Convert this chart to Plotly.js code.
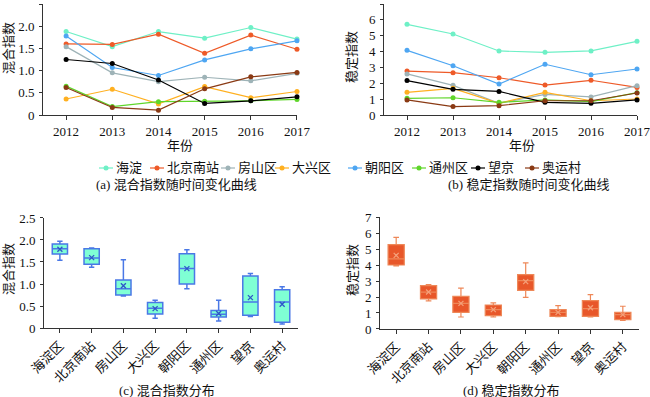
<!DOCTYPE html>
<html><head><meta charset="utf-8">
<script src="https://cdn.plot.ly/plotly-3.0.1.min.js"></script>
<style>html,body{margin:0;padding:0;background:#fff;}#chart{width:650px;height:397px;}</style>
</head><body><div id="chart"></div>
<script>
// ---- data ----
var years = ['2012','2013','2014','2015','2016','2017'];
var seriesNames = ['海淀','北京南站','房山区','大兴区','朝阳区','通州区','望京','奥运村'];
var boxCategories = ['海淀区','北京南站','房山区','大兴区','朝阳区','通州区','望京','奥运村'];

// mixed index over time (a)
var mixHaidian  = [1.88,1.54,1.88,1.73,1.97,1.71];
var mixBjnz     = [1.60,1.59,1.82,1.39,1.80,1.48];
var mixFangshan = [1.54,0.95,0.75,0.85,0.77,0.94];
var mixDaxing   = [0.36,0.58,0.25,0.64,0.39,0.53];
var mixChaoyang = [1.78,1.07,0.89,1.24,1.49,1.67];
var mixTongzhou = [0.65,0.19,0.30,0.31,0.32,0.35];
var mixWangjing = [1.25,1.16,0.79,0.26,0.32,0.41];
var mixAoyuncun = [0.62,0.17,0.11,0.59,0.86,0.96];

// stability index over time (b)
var stbHaidian  = [5.72,5.11,4.04,3.95,4.04,4.65];
var stbBjnz     = [2.77,2.67,2.35,1.89,2.19,1.74];
var stbFangshan = [2.59,1.87,0.74,1.30,1.14,1.85];
var stbDaxing   = [1.43,1.68,0.74,1.43,0.90,1.01];
var stbChaoyang = [4.08,3.11,1.95,3.20,2.54,2.90];
var stbTongzhou = [1.05,1.09,0.80,0.95,0.84,1.41];
var stbWangjing = [2.17,1.62,1.49,0.80,0.74,0.95];
var stbAoyuncun = [0.95,0.53,0.59,0.90,0.90,1.39];

// box stats (c) mixed index distribution
var mixQ1     = [1.68,1.45,0.75,0.32,1.00,0.25,0.29,0.13];
var mixMedian = [1.80,1.59,0.89,0.45,1.35,0.31,0.59,0.59];
var mixQ3     = [1.91,1.80,1.09,0.58,1.69,0.40,1.18,0.87];
var mixLow    = [1.54,1.38,0.73,0.22,0.89,0.16,0.26,0.09];
var mixHigh   = [1.97,1.82,1.55,0.63,1.78,0.63,1.24,0.94];
var mixMean   = [1.79,1.60,0.96,0.44,1.35,0.33,0.69,0.54];

// box stats (d) stability index distribution
var stbQ1     = [4.00,1.88,1.04,0.83,2.42,0.79,0.79,0.58];
var stbMedian = [4.38,2.31,1.60,1.21,3.02,1.04,1.27,0.90];
var stbQ3     = [5.27,2.71,2.04,1.50,3.40,1.21,1.77,1.04];
var stbLow    = [3.94,1.76,0.75,0.75,1.98,0.77,0.75,0.54];
var stbHigh   = [5.73,2.77,2.56,1.63,4.13,1.46,2.15,1.42];
var stbMean   = [4.60,2.31,1.60,1.21,2.96,1.04,1.33,0.90];

var mixTickVals = [0,0.5,1,1.5,2,2.5];
var mixTickText = ['0','0.5','1.0','1.5','2.0','2.5'];
var stbTickVals = [0,1,2,3,4,5,6,7];

// ---- styling ----
var colors = ['#6EF0C6','#EE5A28','#9EB3B7','#FFB020','#4EA6F2','#5FD62A','#000000','#8A3A14'];
var FONT = 'Liberation Serif, "Noto Sans CJK SC", serif';
var mixSeries = [mixHaidian,mixBjnz,mixFangshan,mixDaxing,mixChaoyang,mixTongzhou,mixWangjing,mixAoyuncun];
var stbSeries = [stbHaidian,stbBjnz,stbFangshan,stbDaxing,stbChaoyang,stbTongzhou,stbWangjing,stbAoyuncun];

var traces = [];
seriesNames.forEach(function(n,i){
  traces.push({type:'scatter',mode:'lines+markers',x:years,y:mixSeries[i],name:n,xaxis:'x',yaxis:'y',
    line:{color:colors[i],width:1.2},marker:{color:colors[i],size:5},showlegend:false,cliponaxis:false});
});
seriesNames.forEach(function(n,i){
  traces.push({type:'scatter',mode:'lines+markers',x:years,y:stbSeries[i],name:n,xaxis:'x2',yaxis:'y2',
    line:{color:colors[i],width:1.2},marker:{color:colors[i],size:5},showlegend:false,cliponaxis:false});
});
traces.push({type:'box',x:boxCategories,q1:mixQ1,median:mixMedian,q3:mixQ3,lowerfence:mixLow,upperfence:mixHigh,
  xaxis:'x3',yaxis:'y3',fillcolor:'#7FFFD4',line:{color:'#4A78E6',width:1.5},width:0.48,whiskerwidth:0.35,showlegend:false});
traces.push({type:'scatter',mode:'markers',x:boxCategories,y:mixMean,xaxis:'x3',yaxis:'y3',
  marker:{symbol:'x-thin-open',size:5,color:'#2E55C8',line:{color:'#2E55C8',width:1.3}},showlegend:false});
traces.push({type:'box',x:boxCategories,q1:stbQ1,median:stbMedian,q3:stbQ3,lowerfence:stbLow,upperfence:stbHigh,
  xaxis:'x4',yaxis:'y4',fillcolor:'#E8572A',line:{color:'#EE8858',width:1.2},width:0.5,whiskerwidth:0.35,showlegend:false});
traces.push({type:'scatter',mode:'markers',x:boxCategories,y:stbMean,xaxis:'x4',yaxis:'y4',
  marker:{symbol:'x-thin-open',size:5,color:'#F4A07A',line:{color:'#F4A07A',width:1.3}},showlegend:false});

function xa(dom, range, angle){
  return {domain:dom,type:'category',range:range,showline:true,linecolor:'#333',linewidth:1,
    ticks:'outside',ticklen:4,tickcolor:'#333',showgrid:false,zeroline:false,tickangle:angle,
    tickfont:{family:FONT,size:13,color:'#111'},fixedrange:true};
}
function ya(dom, range, tv, tt){
  var o = {domain:dom,range:range,showline:true,linecolor:'#333',linewidth:1,ticks:'outside',ticklen:3,
    tickcolor:'#333',showgrid:false,zeroline:false,tickvals:tv,ticklabelstandoff:2,
    tickfont:{family:FONT,size:13,color:'#111'}};
  if (tt) o.ticktext = tt;
  return o;
}

var layout = {
  width:650,height:397,margin:{l:0,r:0,t:0,b:0},paper_bgcolor:'#fff',plot_bgcolor:'#fff',
  font:{family:FONT,size:13,color:'#111'},showlegend:false,
  xaxis: Object.assign(xa([0.0662,0.4569],[-0.5,5],0),{anchor:'y'}),
  yaxis: Object.assign(ya([0.7103,0.9899],[0,2.5],mixTickVals,mixTickText),{anchor:'x'}),
  xaxis2: Object.assign(xa([0.5908,0.98],[-0.5,5],0),{anchor:'y2'}),
  yaxis2: Object.assign(ya([0.7103,0.9899],[0,7],stbTickVals,null),{anchor:'x2'}),
  xaxis3: Object.assign(xa([0.0677,0.4585],[-0.5,7.5],-45),{anchor:'y3'}),
  yaxis3: Object.assign(ya([0.1738,0.4509],[0,2.5],mixTickVals,mixTickText),{anchor:'x3'}),
  xaxis4: Object.assign(xa([0.5846,0.9831],[-0.5,7.5],-45),{anchor:'y4'}),
  yaxis4: Object.assign(ya([0.1713,0.4534],[0,7],stbTickVals,null),{anchor:'x4'}),
  annotations:[], shapes:[]
};

function px(x){return x/650;} function py(y){return 1-y/397;}
function ann(text,x,y,opts){
  var a = {text:text,x:px(x),y:py(y),xref:'paper',yref:'paper',showarrow:false,
    font:{family:FONT,size:13,color:'#111'},xanchor:'center',yanchor:'middle'};
  for (var k in (opts||{})) a[k]=opts[k];
  layout.annotations.push(a);
}
ann('年份',180,145); ann('年份',522,145);
ann('混合指数',8,48,{textangle:-90}); ann('稳定指数',351,57,{textangle:-90});
ann('混合指数',8,269,{textangle:-90}); ann('稳定指数',352,270,{textangle:-90});
ann('(a) 混合指数随时间变化曲线',176,184); ann('(b) 稳定指数随时间变化曲线',528,184);
ann('(c) 混合指数分布',167,390); ann('(d) 稳定指数分布',511,390);

// manual legend
var legX = [106,157,228,282,355,419,478,532], legY = 168;
seriesNames.forEach(function(n,i){
  var c = colors[i], mx = legX[i];
  layout.shapes.push({type:'line',xref:'paper',yref:'paper',x0:px(mx-7),x1:px(mx+7),y0:py(legY),y1:py(legY),line:{color:c,width:1.2}});
  layout.shapes.push({type:'circle',xref:'paper',yref:'paper',x0:px(mx-2.5),x1:px(mx+2.5),y0:py(legY+2.5),y1:py(legY-2.5),fillcolor:c,line:{color:c,width:0}});
  ann(n,mx+8,legY,{xanchor:'left'});
});

Plotly.newPlot('chart',traces,layout,{staticPlot:true,displayModeBar:false});
</script></body></html>
